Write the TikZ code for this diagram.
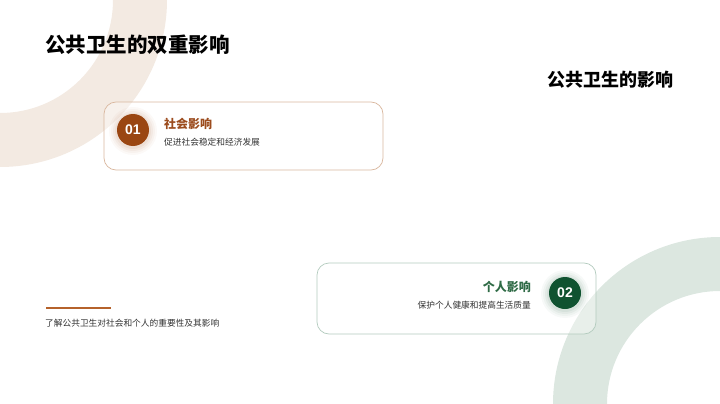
\documentclass[tikz,border=0pt]{standalone}
\usepackage{fontspec}
\setmainfont{Noto Sans CJK SC}
\newfontfamily\numfont{Liberation Sans}
\usetikzlibrary{positioning}
\definecolor{ringA}{HTML}{F3EAE2}
\definecolor{ringB}{HTML}{DCE7E0}
\definecolor{brownD}{HTML}{9A4612}
\definecolor{brownT}{HTML}{9C4C1E}
\definecolor{brownL}{HTML}{B5622B}
\definecolor{cardA}{HTML}{D9B79E}
\definecolor{cardB}{HTML}{B3CBBE}
\definecolor{greenD}{HTML}{0F5230}
\definecolor{greenT}{HTML}{2F6B46}
\definecolor{txt}{HTML}{333333}
\tikzset{
  card/.style={draw, line width=0.7pt, rounded corners=12pt, fill=white, fill opacity=0.35},
  numcirc/.style={circle, minimum size=32pt, inner sep=0pt, text=white, font=\numfont\bfseries\fontsize{14}{14}\selectfont},
  head/.style={inner sep=0pt, font=\bfseries\fontsize{12}{12}\selectfont},
  sub/.style={inner sep=0pt, text=txt, font=\fontsize{8.7}{9}\selectfont},
}
\begin{document}
\begin{tikzpicture}[x=1pt,y=-1pt]
\useasboundingbox (0,0) rectangle (720,404);
\begin{scope}
\clip (0,0) rectangle (720,404);
\fill[ringA, even odd rule] (0,0) circle (167) (0,0) circle (113);
\fill[ringB, even odd rule] (720,404) circle (167) (720,404) circle (113);
\end{scope}
% titles
\node[anchor=west, inner sep=0pt, font=\bfseries\fontsize{20.5}{21}\selectfont, text=black] (title) at (45,45) {公共卫生的双重影响};
\node[anchor=east, inner sep=0pt, font=\bfseries\fontsize{18}{18}\selectfont, text=black] (title2) at (674,80) {公共卫生的影响};
% card 1
\draw[card, draw=cardA] (104,102) rectangle (383,170);
\foreach \r/\o in {24/0.03,22/0.04,20/0.05,18/0.06}{
  \fill[brownD, opacity=\o] (133,131) circle (\r);
}
\node[numcirc, fill=brownD] (c1) at (133,130) {01};
\node[head, text=brownT, anchor=west] (h1) at (164,124) {社会影响};
\node[sub, anchor=west] (s1) at (164,142) {促进社会稳定和经济发展};
% card 2
\draw[card, draw=cardB] (317,263) rectangle (596,334);
\foreach \r/\o in {24/0.03,22/0.04,20/0.05,18/0.06}{
  \fill[greenD, opacity=\o] (565,294) circle (\r);
}
\node[numcirc, fill=greenD] (c2) at (565,293) {02};
\node[head, text=greenT, anchor=east] (h2) at (531,287) {个人影响};
\node[sub, anchor=east] (s2) at (531,305) {保护个人健康和提高生活质量};
% bottom-left
\coordinate (l1) at (46,308);
\coordinate (l2) at (111,308);
\draw[brownL, line width=2pt] (l1) -- (l2);
\node[sub, anchor=west] (desc) at (45,323) {了解公共卫生对社会和个人的重要性及其影响};
\end{tikzpicture}
\end{document}
